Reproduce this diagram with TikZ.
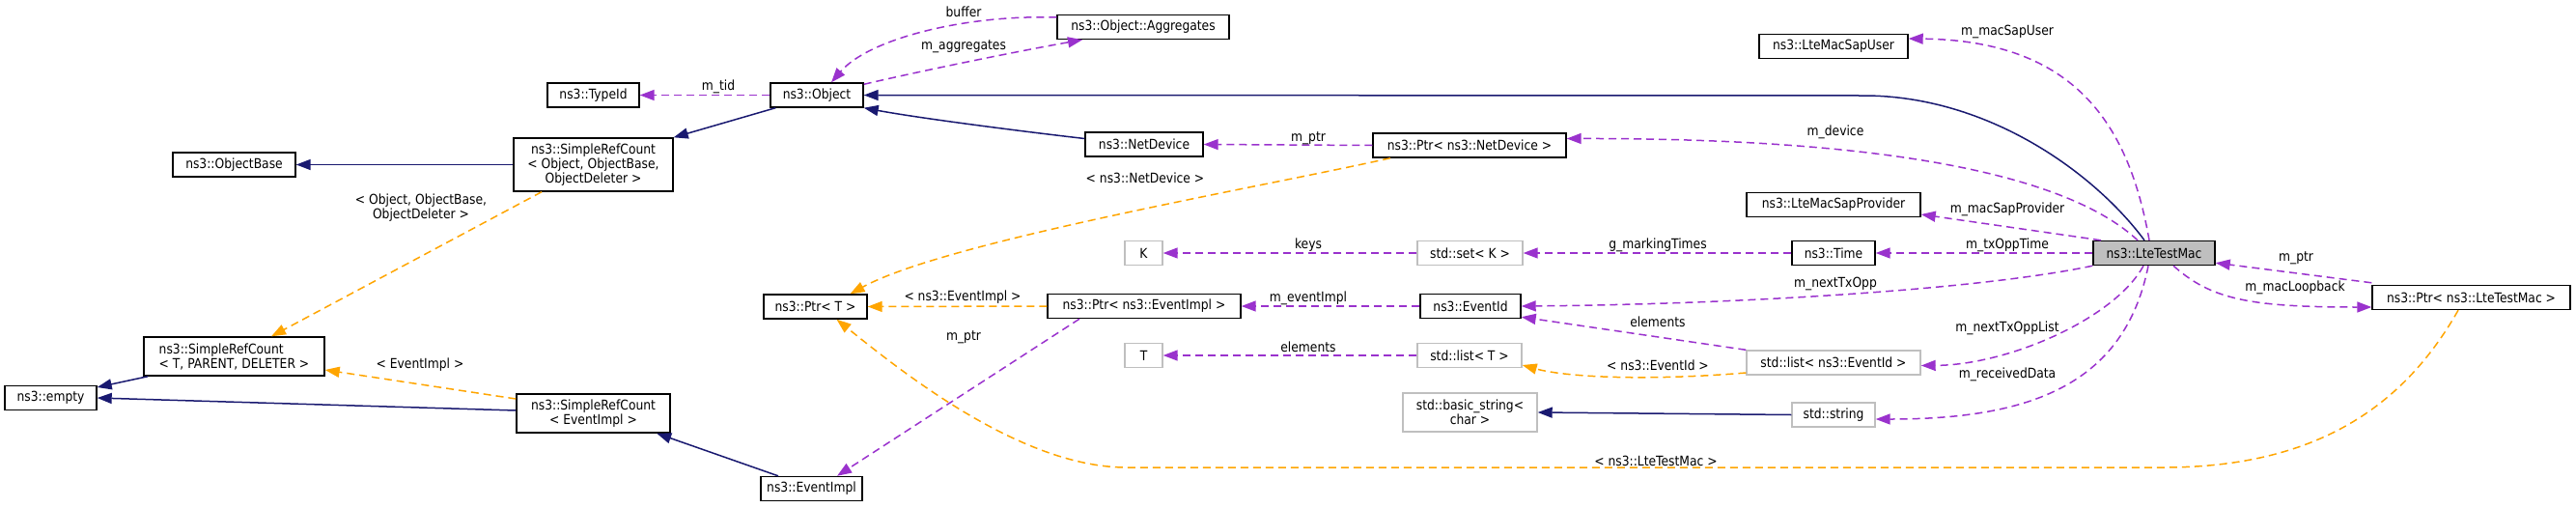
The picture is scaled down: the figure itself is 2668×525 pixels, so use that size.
\documentclass[tikz,border=0pt]{standalone}
\usepackage{fontspec}
\setmainfont{DejaVu Sans}[FakeStretch=0.88]
\usetikzlibrary{arrows.meta}
\definecolor{navy}{HTML}{191970}
\definecolor{orchid}{HTML}{9A32CD}
\definecolor{orng}{HTML}{FFA500}
\definecolor{grey75}{HTML}{BFBFBF}
\begin{document}
\begin{tikzpicture}[x=1pt,y=-1pt,
  box/.style={draw=black, line width=1.4pt, fill=white, inner sep=0pt, minimum height=25pt,
    font=\fontsize{14}{15}\selectfont, align=center},
  ubox/.style={box, draw=grey75},
  tip/.style={-{Triangle[length=15pt,width=11pt]}},
  inh/.style={draw=navy, line width=1.5pt, tip},
  use/.style={draw=orchid, line width=1.5pt, dash pattern=on 8pt off 5pt, tip},
  tmpl/.style={draw=orng, line width=1.5pt, dash pattern=on 8pt off 5pt, tip},
  lbl/.style={font=\fontsize{14}{15}\selectfont, inner sep=0pt, align=center}
]
\useasboundingbox (0,0) rectangle (2668,525);

% nodes
\node[box, minimum width=95pt] (typeid) at (614.5,98.5) {ns3::TypeId};
\node[box, minimum width=96pt] (obj) at (846,98.5) {ns3::Object};
\node[box, minimum width=165pt, minimum height=55pt] (srcobj) at (614.5,170.5) {ns3::SimpleRefCount\\< Object, ObjectBase,\\ObjectDeleter >};
\node[box, minimum width=127pt] (objbase) at (242.5,170.5) {ns3::ObjectBase};
\node[box, minimum width=107pt] (ptrT) at (844.5,317.5) {ns3::Ptr< T >};
\node[box, minimum width=187pt, minimum height=40pt, align=left] (srctpd) at (242.5,369) {ns3::SimpleRefCount\\< T, PARENT, DELETER >};
\node[box, minimum width=95pt] (empty) at (52.5,412) {ns3::empty};
\node[box, minimum width=159pt, minimum height=40pt] (srcev) at (614.5,428) {ns3::SimpleRefCount\\< EventImpl >};
\node[box, minimum width=105pt] (evimpl) at (840.5,506) {ns3::EventImpl};
\node[box, minimum width=178pt] (agg) at (1184,28) {ns3::Object::Aggregates};
\node[box, minimum width=122pt] (netdev) at (1185,149.5) {ns3::NetDevice};
\node[box, minimum width=200pt] (ptrnd) at (1522,150.5) {ns3::Ptr< ns3::NetDevice >};
\node[ubox, minimum width=39pt] (k) at (1184.5,262) {K};
\node[ubox, minimum width=109pt] (setk) at (1522.5,262) {std::set< K >};
\node[box, minimum width=200pt] (ptrev) at (1185,317) {ns3::Ptr< ns3::EventImpl >};
\node[box, minimum width=104pt] (eventid) at (1523,317) {ns3::EventId};
\node[ubox, minimum width=39pt] (t) at (1184.5,368) {T};
\node[ubox, minimum width=108pt] (listt) at (1522,368) {std::list< T >};
\node[ubox, minimum width=139pt, minimum height=40pt] (basicstr) at (1522.5,427) {std::basic\_string<\\char >};
\node[box, minimum width=154pt] (sapuser) at (1899,48) {ns3::LteMacSapUser};
\node[box, minimum width=180pt] (sapprov) at (1899,212) {ns3::LteMacSapProvider};
\node[box, minimum width=86pt] (time) at (1899,262) {ns3::Time};
\node[box, minimum width=126pt, fill=grey75] (lte) at (2231,262) {ns3::LteTestMac};
\node[box, minimum width=205pt] (ptrltm) at (2559.5,308) {ns3::Ptr< ns3::LteTestMac >};
\node[ubox, minimum width=180pt] (listev) at (1899,375.5) {std::list< ns3::EventId >};
\node[ubox, minimum width=86pt] (str) at (1899,429.5) {std::string};

% inheritance edges
\draw[inh] ([xshift=6pt]obj.south west) -- (srcobj.north east);
\draw[inh] (srcobj.west) -- (objbase.east);
\draw[inh] ([xshift=5pt]srctpd.south west) -- ([yshift=11pt]empty.east);
\draw[inh] ([yshift=3pt]srcev.west) -- (empty.east);
\draw[inh] ([xshift=-34.5pt]evimpl.north) -- ([xshift=-14.5pt]srcev.south east);
\draw[inh] ([xshift=-10pt]lte.north) .. controls (2170,180) and (2060,99) .. (1930,99) -- (obj.east);
\draw[inh] ([yshift=6pt]netdev.west) .. controls (1050,135) and (950,122) .. (obj.south east);
\draw[inh] (str.west) -- (basicstr.east);

% template edges
\draw[tmpl] ([xshift=-53.5pt]srcobj.south) -- ([xshift=38.5pt]srctpd.north);
\draw[tmpl] ([yshift=15pt]srcev.west) -- ([yshift=-14pt]srctpd.east);
\draw[tmpl] ([xshift=-82pt]ptrnd.south) .. controls (1300,195) and (980,250) .. ([xshift=36pt]ptrT.north);
\draw[tmpl] (ptrev.west) -- (ptrT.east);
\draw[tmpl] ([yshift=-10.5pt]listev.west) .. controls (1700,395) and (1620,390) .. ([yshift=-10pt]listt.east);
\draw[tmpl] ([xshift=-13.5pt]ptrltm.south) .. controls (2490,420) and (2400,484) .. (2240,484) -- (1167,484)
  .. controls (1060,484) and (940,390) .. ([xshift=22pt]ptrT.south);

% usage edges
\draw[use] (obj.west) -- (typeid.east);
\draw[use] ([yshift=10pt]agg.west) .. controls (1000,15) and (900,40) .. ([xshift=15pt]obj.north);
\draw[use] ([yshift=-2pt]obj.north east) .. controls (960,72) and (1060,52) .. ([xshift=-63pt]agg.south);
\draw[use] (ptrnd.west) -- (netdev.east);
\draw[use] ([xshift=-17pt]lte.north) .. controls (2140,180) and (1950,143) .. ([yshift=7pt]ptrnd.east);
\draw[use] (setk.west) -- (k.east);
\draw[use] (time.west) -- (setk.east);
\draw[use] (lte.west) -- (time.east);
\draw[use] ([xshift=-5pt]lte.north) .. controls (2205,130) and (2150,42) .. ([yshift=8pt]sapuser.east);
\draw[use] ([xshift=-55pt]lte.north) -- ([yshift=-10pt]sapprov.east);
\draw[use] (eventid.west) -- (ptrev.east);
\draw[use] ([xshift=-67pt]ptrev.south) -- ([xshift=26.5pt]evimpl.north);
\draw[use] (listt.west) -- (t.east);
\draw[use] (listev.north west) -- ([yshift=2pt]eventid.south east);
\draw[use] (lte.south west) .. controls (2050,300) and (1800,315) .. (eventid.east);
\draw[use] ([xshift=-11pt]lte.south) .. controls (2190,330) and (2080,378) .. ([yshift=-3pt]listev.east);
\draw[use] ([xshift=-6pt]lte.south) .. controls (2200,400) and (2100,434) .. ([yshift=-4.5pt]str.east);
\draw[use] ([yshift=2pt]ptrltm.north west) -- ([yshift=3pt]lte.south east);
\draw[use] ([xshift=20pt]lte.south) .. controls (2290,310) and (2330,318) .. ([yshift=-10pt]ptrltm.west);

% labels
\node[lbl] (l1) at (744,90) {m\_tid};
\node[lbl] (l2) at (436,215) {< Object, ObjectBase,\\ObjectDeleter >};
\node[lbl] (l3) at (435,378) {< EventImpl >};
\node[lbl] (l4) at (998,12) {buffer};
\node[lbl] (l5) at (998,48) {m\_aggregates};
\node[lbl] (l6) at (1355,143) {m\_ptr};
\node[lbl] (l7) at (1186,184) {< ns3::NetDevice >};
\node[lbl] (l8) at (1901,137) {m\_device};
\node[lbl] (l9) at (1355,254) {keys};
\node[lbl] (l10) at (1717,254) {g\_markingTimes};
\node[lbl] (l11) at (2079,254) {m\_txOppTime};
\node[lbl] (l12) at (2079,33) {m\_macSapUser};
\node[lbl] (l13) at (2079,217) {m\_macSapProvider};
\node[lbl] (l14) at (1355,309) {m\_eventImpl};
\node[lbl] (l15) at (997,308) {< ns3::EventImpl >};
\node[lbl] (l16) at (998,349) {m\_ptr};
\node[lbl] (l17) at (1355,359) {elements};
\node[lbl] (l18) at (1717,333) {elements};
\node[lbl] (l19) at (1717,378) {< ns3::EventId >};
\node[lbl] (l20) at (1901,294) {m\_nextTxOpp};
\node[lbl] (l21) at (2079,340) {m\_nextTxOppList};
\node[lbl] (l22) at (2079,388) {m\_receivedData};
\node[lbl] (l23) at (2378,267) {m\_ptr};
\node[lbl] (l24) at (2377,298) {m\_macLoopback};
\node[lbl] (l25) at (1715,477) {< ns3::LteTestMac >};
\end{tikzpicture}
\end{document}
